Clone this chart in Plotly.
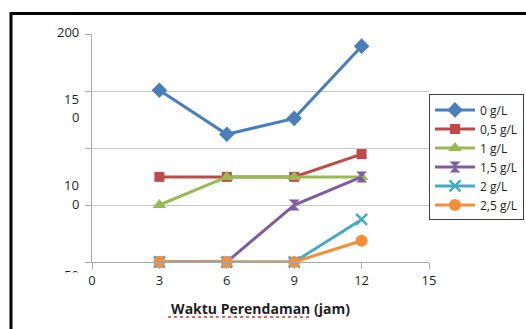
import plotly.graph_objects as go

# Soaking time (hours)
waktu = [3, 6, 9, 12]

# One series per concentration
konsentrasi = ["0 g/L", "0,5 g/L", "1 g/L", "1,5 g/L", "2 g/L", "2,5 g/L"]
nilai_0 = [163, 134, 144.5, 192]
nilai_05 = [106, 106, 106, 121]
nilai_1 = [87.5, 106, 106, 106]
nilai_15 = [50, 50, 87.5, 106]
nilai_2 = [50, 50, 50, 78]
nilai_25 = [50, 50, 50, 64]

warna = ["#4A7EBB", "#BE4B48", "#98B954", "#7D5FA0", "#46AAC5", "#F28E3C"]
simbol = ["diamond", "square", "triangle-up", "hourglass", "x-thin-open", "circle"]
ukuran = [12, 10, 12, 11, 11, 12]

x_ticks = [0, 3, 6, 9, 12, 15]
y_min, y_max = 50, 200
y_grid = [50, 87.5, 125, 162.5, 200]
# Wrapped value-axis labels: (text, value position)
y_label_lines = [("200", 201.3), ("15", 157.5), ("0", 145.5),
                 ("10", 100.5), ("0", 88), ("50", 41.4)]
x_title = "Waktu Perendaman (jam)"

series = [nilai_0, nilai_05, nilai_1, nilai_15, nilai_2, nilai_25]

fig = go.Figure()
for name, vals, c, s, sz in zip(konsentrasi, series, warna, simbol, ukuran):
    marker = dict(symbol=s, size=sz, color=c)
    if s == "x-thin-open":
        marker["line"] = dict(color=c, width=2.5)
    fig.add_trace(go.Scatter(
        x=waktu, y=vals, name=name, mode="lines+markers",
        line=dict(color=c, width=3), marker=marker, cliponaxis=False,
    ))

label_font = dict(family="Open Sans", size=13, color="#1e1e1e")


def to_paper(v):
    return (v - y_min) / (y_max - y_min)


annotations = []
for txt, val in y_label_lines:
    annotations.append(dict(
        text=txt, xref="paper", yref="paper", x=0, y=to_paper(val),
        xanchor="right", yanchor="middle", xshift=-11, showarrow=False,
        font=label_font,
    ))
# the lowest label sits partly under the chart border area
annotations.append(dict(
    text=" ", xref="paper", yref="paper", x=-0.0653, y=to_paper(38.2),
    xanchor="center", yanchor="middle",
    width=30, height=14, bgcolor="white", showarrow=False, borderpad=0,
))

shapes = [
    # outer frame of the chart object
    dict(type="rect", xref="paper", yref="paper", x0=-0.2404, x1=3,
         y0=-1, y1=1.0899, line=dict(color="black", width=3), layer="above"),
    # proofing underline below the axis title words
    dict(type="line", xref="paper", yref="paper", x0=0.2255, x1=0.3760,
         y0=-0.2412, y1=-0.2412, line=dict(color="#e03030", width=1.5, dash="dot")),
    dict(type="line", xref="paper", yref="paper", x0=0.3858, x1=0.6528,
         y0=-0.2412, y1=-0.2412, line=dict(color="#e03030", width=1.5, dash="dot")),
]

fig.update_layout(
    width=526, height=329,
    margin=dict(l=92, r=97, t=34, b=67, autoexpand=False),
    paper_bgcolor="white", plot_bgcolor="white",
    font=dict(family="Open Sans", color="#1e1e1e"),
    xaxis=dict(
        range=[0, 15], tickvals=x_ticks, showgrid=False, zeroline=False,
        showline=True, linecolor="#a6a6a6", linewidth=1,
        ticks="outside", ticklen=6, tickcolor="#a6a6a6",
        tickfont=label_font,
        title=dict(text="<b>" + x_title + "</b>", standoff=16,
                   font=dict(family="Open Sans", size=14, color="#1e1e1e")),
    ),
    yaxis=dict(
        range=[y_min, y_max], tickvals=y_grid, showticklabels=False,
        showgrid=True, gridcolor="#c6c6c6", gridwidth=1, zeroline=False,
        showline=True, linecolor="#a6a6a6", linewidth=1,
        ticks="outside", ticklen=6, tickcolor="#a6a6a6",
    ),
    legend=dict(
        x=1.0, xanchor="left", y=0.735, yanchor="top",
        bgcolor="white", bordercolor="#404040", borderwidth=1,
        font=dict(family="Open Sans", size=12, color="#1e1e1e"),
        tracegroupgap=0, itemwidth=40,
    ),
    annotations=annotations,
    shapes=shapes,
)

fig.write_html("out.html")
